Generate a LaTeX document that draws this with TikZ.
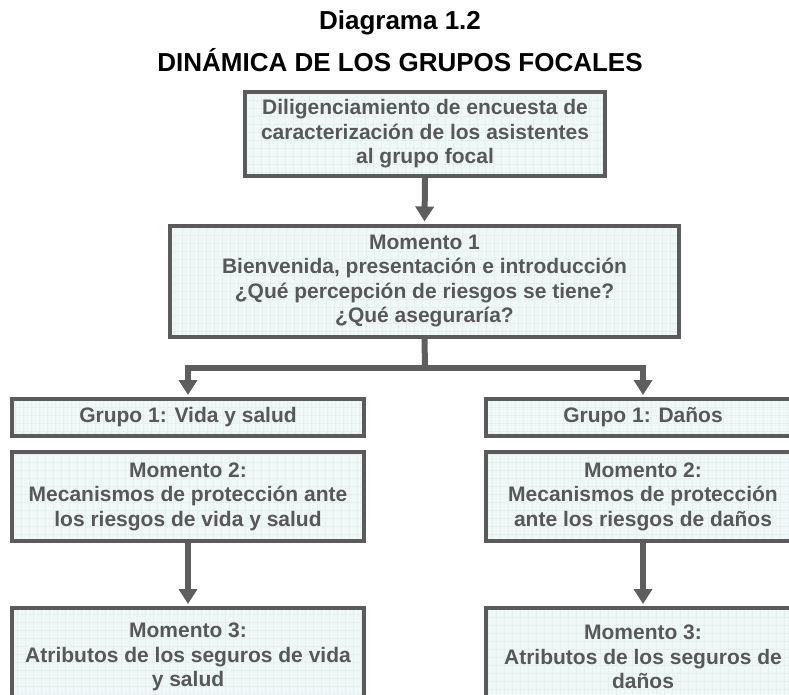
\documentclass[tikz,border=0pt]{standalone}
\usepackage{fontspec}
\setmainfont{Liberation Sans}
\usetikzlibrary{arrows.meta}
\definecolor{boxline}{HTML}{5B5B5B}
\definecolor{boxfill}{HTML}{EFF7F7}
\definecolor{gridc}{HTML}{E6F0F1}
\definecolor{txtgray}{HTML}{585858}
\definecolor{arrgray}{HTML}{5E5E5E}
\tikzset{
  x=1pt, y=-1pt,
  box/.style={draw=boxline, line width=4pt, fill=boxfill, inner sep=0pt,
    align=center, text=txtgray,
    font=\fontsize{21}{24.5}\selectfont\bfseries,
    path picture={\draw[gridc, line width=0.35pt]
      (path picture bounding box.south west) grid[step=8pt]
      (path picture bounding box.north east);}},
  ttl/.style={font=\fontsize{26}{30}\selectfont\bfseries, text=black, inner sep=0pt},
  arrline/.style={draw=arrgray, line width=6pt, line join=miter},
  arr/.style={arrline, -{Triangle[width=18pt,length=15pt]}, shorten >=2pt},
}
\begin{document}
\begin{tikzpicture}
\useasboundingbox (0,0) rectangle (789,694);
\clip (0,0) rectangle (789,694);
\node[ttl] (t1) at (400,23) {Diagrama 1.2};
\node[ttl] (t2) at (400,60) {DINÁMICA DE LOS GRUPOS FOCALES};

\node[box, minimum width=360pt, minimum height=84pt] (b1) at (425,134)
  {Diligenciamiento de encuesta de\\caracterización de los asistentes\\al grupo focal};
\node[box, minimum width=509pt, minimum height=111pt] (b2) at (424.5,281)
  {Momento 1\\Bienvenida, presentación e introducción\\¿Qué percepción de riesgos se tiene?\\¿Qué aseguraría?};

\node[box, minimum width=352pt, minimum height=37pt] (g1) at (188,417.5) {Grupo 1: Vida y salud};
\node[box, minimum width=314pt, minimum height=37pt] (g2) at (643,417.5) {Grupo 1: Daños};

\node[box, minimum width=352pt, minimum height=89pt] (m2a) at (188,496.5)
  {Momento 2:\\Mecanismos de protección ante\\los riesgos de vida y salud};
\node[box, minimum width=314pt, minimum height=89pt] (m2b) at (643,496.5)
  {Momento 2:\\Mecanismos de protección\\ante los riesgos de daños};

\node[box, minimum width=352pt, minimum height=98pt] (m3a) at (188,657)
  {Momento 3:\\Atributos de los seguros de vida\\y salud};
\node[box, minimum width=314pt, minimum height=98pt] (m3b) at (643,657)
  {Momento 3:\\Atributos de los seguros de\\daños};

\coordinate (jn) at (425,368);
\draw[arr] (b1.south) -- (b2.north);
\draw[arrline] (b2.south) -- (jn);
\draw[arr] (jn) -| (g1.north);
\draw[arr] (jn) -| (g2.north);
\draw[arr] (m2a.south) -- (m3a.north);
\draw[arr] (m2b.south) -- (m3b.north);
\end{tikzpicture}
\end{document}
